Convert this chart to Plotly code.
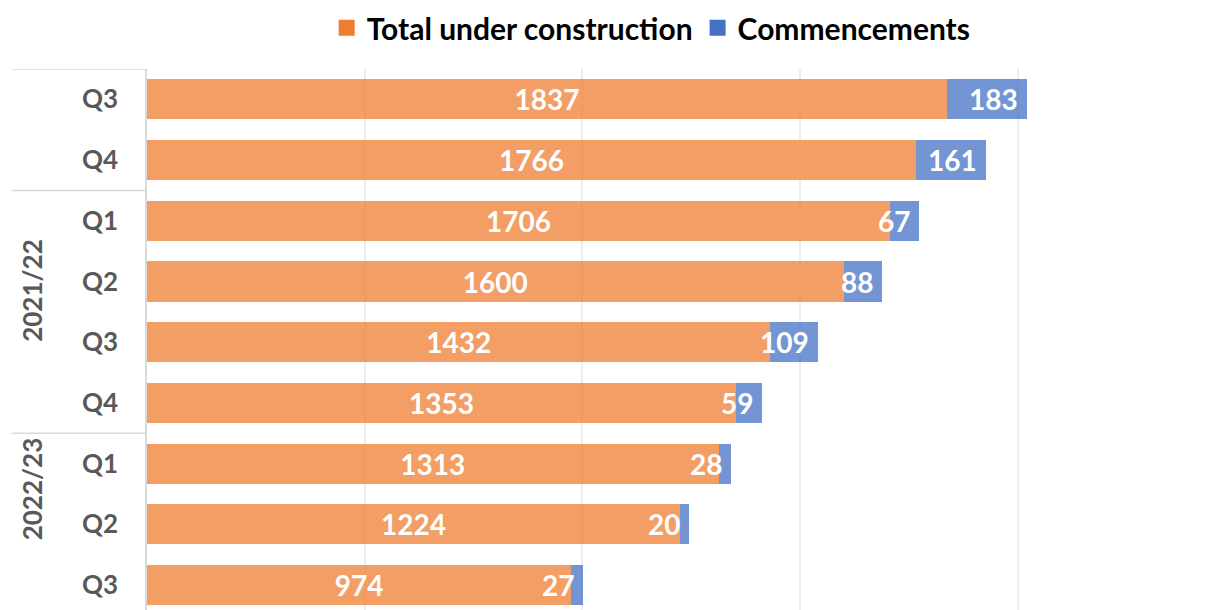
import plotly.graph_objects as go

# ---- data ----
groups = ["", "", "2021/22", "2021/22", "2021/22", "2021/22", "2022/23", "2022/23", "2022/23"]
quarters = ["Q3", "Q4", "Q1", "Q2", "Q3", "Q4", "Q1", "Q2", "Q3"]
total_under_construction = [1837, 1766, 1706, 1600, 1432, 1353, 1313, 1224, 974]
commencements = [183, 161, 67, 88, 109, 59, 28, 20, 27]
group_names = ["2021/22", "2022/23"]
group_label_shift = [22, 36]  # px, visual offset of rotated group labels

ORANGE = "#ED7D31"
BLUE = "#4472C4"
ORANGE_BAR = "rgba(237,125,49,0.75)"
BLUE_BAR = "rgba(68,114,196,0.75)"
FONT = "Lato"

idx = list(range(len(quarters)))

fig = go.Figure()
fig.add_trace(go.Bar(
    y=idx, x=total_under_construction, orientation="h",
    marker=dict(color=ORANGE_BAR, line=dict(width=0)),
    width=0.66, name="Total under construction", showlegend=False,
    text=[str(v) for v in total_under_construction],
    textposition="inside", insidetextanchor="middle",
    textfont=dict(family=FONT, size=28, color="white", weight="bold"),
    hoverinfo="skip",
))
fig.add_trace(go.Bar(
    y=idx, x=commencements, orientation="h",
    marker=dict(color=BLUE_BAR, line=dict(width=0)),
    width=0.66, name="Commencements", showlegend=False,
    hoverinfo="skip",
))
# legend-only traces with solid colours
fig.add_trace(go.Scatter(x=[None], y=[None], mode="markers",
                         marker=dict(color=ORANGE, symbol="square", size=16),
                         name="Total under construction"))
fig.add_trace(go.Scatter(x=[None], y=[None], mode="markers",
                         marker=dict(color=BLUE, symbol="square", size=16),
                         name="Commencements"))

annotations = []
for i, (t, c) in enumerate(zip(total_under_construction, commencements)):
    annotations.append(dict(
        x=t + c, y=i, xref="x", yref="y", text=str(c), showarrow=False,
        xanchor="right", yanchor="middle", xshift=-7,
        font=dict(family=FONT, size=28, color="white", weight="bold"),
    ))

# group labels and dividers
shapes = []
for gname, ys in zip(group_names, group_label_shift):
    members = [i for i, g in enumerate(groups) if g == gname]
    mid = sum(members) / len(members)
    annotations.append(dict(
        x=-0.107, y=mid, xref="paper", yref="y", text=gname, showarrow=False,
        textangle=-90, xanchor="center", yanchor="middle", yshift=ys,
        font=dict(family=FONT, size=26, color="#595959", weight="bold"),
    ))
boundaries = [-0.5] + [i - 0.5 for i in range(1, len(groups)) if groups[i] != groups[i - 1]]
for b in boundaries:
    shapes.append(dict(type="line", xref="paper", yref="y", x0=-0.126, x1=0, y0=b, y1=b,
                       line=dict(color="#D9D9D9", width=1.5), layer="above"))

fig.update_layout(
    width=1214, height=602,
    margin=dict(l=139, r=0, t=61, b=0, autoexpand=False),
    paper_bgcolor="white", plot_bgcolor="white",
    barmode="stack", bargap=0.34,
    font=dict(family=FONT, size=26, color="#595959"),
    legend=dict(orientation="h", x=0.469, xanchor="center", y=0.967, yanchor="middle",
                yref="container", traceorder="normal", itemsizing="trace",
                font=dict(family=FONT, size=30, color="black", weight="bold"),
                itemwidth=30, tracegroupgap=0, bgcolor="rgba(0,0,0,0)"),
    annotations=annotations,
    shapes=shapes,
    showlegend=True,
)
fig.update_xaxes(range=[0, 2469], dtick=500, showgrid=True, gridcolor="#EDEDED",
                 gridwidth=1.5, zeroline=False, showticklabels=False, showline=False,
                 fixedrange=True, automargin=False)
fig.update_yaxes(range=[8.41, -0.5], tickmode="array", tickvals=idx, ticktext=quarters,
                 showgrid=False, zeroline=False, showline=True, linecolor="#D9D9D9",
                 linewidth=1.5, ticks="", ticklabelstandoff=22, automargin=False,
                 tickfont=dict(family=FONT, size=26, color="#595959", weight="bold"),
                 fixedrange=True)

fig.write_html("out.html")
